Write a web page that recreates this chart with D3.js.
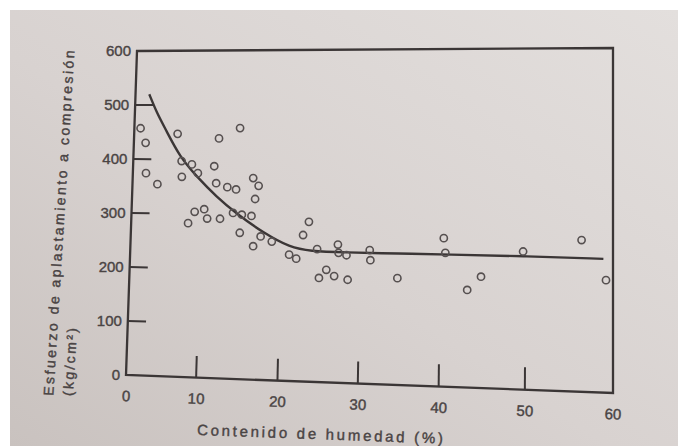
<!DOCTYPE html>
<html>
<head>
<meta charset="utf-8">
<script src="https://cdn.jsdelivr.net/npm/d3@7/dist/d3.min.js"></script>
<style>
body{margin:0;background:#fff}
text{font-family:"Liberation Sans",Arial,sans-serif}
</style>
</head>
<body>
<svg id="chart" width="678" height="446"></svg>
<script>
// moisture content (%) vs crushing strength (kg/cm2)
var moisture = [0.9, 1.7, 1.9, 3.6, 6.3, 12.0, 7.0, 8.5, 9.4, 7.1, 11.5, 11.8, 13.2, 14.3, 16.4, 17.1, 16.7,
                14.0, 15.1, 16.3, 9.1, 10.4, 10.8, 8.2, 12.4, 14.9, 16.6, 17.5, 18.9, 21.1, 22.0, 23.5, 22.8,
                24.6, 24.9, 25.8, 26.8, 28.5, 27.2, 27.3, 28.3, 31.2, 31.3, 34.7, 40.4, 40.6, 43.2, 44.8,
                49.7, 56.4, 59.2, 14.6]
var stress = [457, 430, 374, 354, 447, 439, 397, 391, 375, 368, 388, 357, 350, 346, 367, 353, 329,
              303, 300, 298, 304, 309, 292, 283, 292, 267, 243, 261, 252, 229, 222, 289, 265,
              240, 188, 203, 192, 186, 249, 234, 230, 240, 222, 191, 264, 238, 173, 197,
              243, 265, 196, 458]

// fitted curve
var fitMoisture = [2.0, 3.2, 4.6, 6.7, 9.3, 11.9, 14.4, 17.9, 21.2, 23.7, 27.9, 35.0, 40.7, 49.7, 58.9]
var fitStress = [520, 485, 454, 405, 368, 332, 302, 267, 242, 236, 235, 235, 235, 235, 233]

var xTicks = [0, 10, 20, 30, 40, 50, 60]
var yTicks = [0, 100, 200, 300, 400, 500, 600]
// where the x ticks sit along the (unevenly printed) bottom edge, 0..1
var xTickFrac = [0, 0.144, 0.311, 0.476, 0.642, 0.819, 1]

// the page is photographed a bit skewed: frame corners in the photo
var tl = [137, 51], tr = [613, 48], br = [613, 393], bl = [126, 375]
function warp(u, v){
    return [
        tl[0]*(1-u)*(1-v) + tr[0]*u*(1-v) + br[0]*u*v + bl[0]*(1-u)*v,
        tl[1]*(1-u)*(1-v) + tr[1]*u*(1-v) + br[1]*u*v + bl[1]*(1-u)*v
    ]
}

var x = d3.scaleLinear().domain(xTicks).range(xTickFrac)
var y = d3.scaleLinear().domain([0, 600]).range([1, 0])
function pos(a, b){ return warp(x(a), y(b)) }

var ink = '#3b3636'
var textInk = '#4a4444'
var svg = d3.select('#chart')

var grad = svg.append('defs').append('linearGradient')
    .attr('id', 'paper').attr('x1', '1').attr('y1', '0').attr('x2', '0').attr('y2', '1')
grad.append('stop').attr('offset', '0').attr('stop-color', '#e3dfdd')
grad.append('stop').attr('offset', '0.55').attr('stop-color', '#d8d2d0')
grad.append('stop').attr('offset', '1').attr('stop-color', '#c9c2bf')

svg.append('rect')
    .attr('x', 10).attr('y', 10).attr('width', 668).attr('height', 436)
    .attr('fill', 'url(#paper)')

// frame
var frame = [warp(0, 0), warp(1, 0), warp(1, 1), warp(0, 1)]
svg.append('path')
    .attr('d', d3.line()(frame) + 'Z')
    .attr('fill', 'none')
    .attr('stroke', ink)
    .attr('stroke-width', 2.3)

// inner ticks
var tickU = 18 / 480, tickV = 22 / 334
svg.selectAll('line.ytick').data(yTicks.slice(1, -1))
    .enter().append('line')
    .attr('class', 'ytick')
    .attr('x1', function(d){ return pos(0, d)[0] })
    .attr('y1', function(d){ return pos(0, d)[1] })
    .attr('x2', function(d){ return warp(tickU, y(d))[0] })
    .attr('y2', function(d){ return warp(tickU, y(d))[1] })
    .attr('stroke', ink).attr('stroke-width', 2)

svg.selectAll('line.xtick').data(xTicks.slice(1, -1))
    .enter().append('line')
    .attr('class', 'xtick')
    .attr('x1', function(d){ return pos(d, 0)[0] })
    .attr('y1', function(d){ return pos(d, 0)[1] })
    .attr('x2', function(d){ return warp(x(d), 1 - tickV)[0] })
    .attr('y2', function(d){ return warp(x(d), 1 - tickV)[1] })
    .attr('stroke', ink).attr('stroke-width', 2)

// tick labels
svg.selectAll('text.ylab').data(yTicks)
    .enter().append('text')
    .attr('class', 'ylab')
    .attr('x', function(d){ return pos(0, d)[0] - 6 })
    .attr('y', function(d){ return pos(0, d)[1] })
    .attr('dy', '0.35em')
    .attr('text-anchor', 'end')
    .attr('font-size', 15)
    .attr('fill', textInk).attr('stroke', textInk).attr('stroke-width', 0.4)
    .text(function(d){ return d })

svg.selectAll('text.xlab').data(xTicks)
    .enter().append('text')
    .attr('class', 'xlab')
    .attr('transform', function(d){
        var p = pos(d, 0)
        return 'translate(' + p[0] + ',' + (p[1] + 21) + ') rotate(2)'
    })
    .attr('dy', '0.35em')
    .attr('text-anchor', 'middle')
    .attr('font-size', 15)
    .attr('fill', textInk).attr('stroke', textInk).attr('stroke-width', 0.4)
    .text(function(d){ return d })

// axis titles
svg.append('text')
    .attr('transform', 'translate(320,434) rotate(2)')
    .attr('text-anchor', 'middle')
    .attr('dy', '0.35em')
    .attr('font-size', 15)
    .attr('fill', textInk).attr('stroke', textInk).attr('stroke-width', 0.4)
    .attr('textLength', 246)
    .attr('lengthAdjust', 'spacing')
    .text('Contenido de humedad (%)')

svg.append('text')
    .attr('transform', 'translate(59,223) rotate(-86.5)')
    .attr('text-anchor', 'middle')
    .attr('dy', '0.35em')
    .attr('font-size', 14)
    .attr('fill', textInk).attr('stroke', textInk).attr('stroke-width', 0.4)
    .attr('textLength', 346)
    .attr('lengthAdjust', 'spacing')
    .text('Esfuerzo de aplastamiento a compresión')

svg.append('text')
    .attr('transform', 'translate(70,362) rotate(-86.5)')
    .attr('text-anchor', 'middle')
    .attr('dy', '0.35em')
    .attr('font-size', 14)
    .attr('fill', textInk).attr('stroke', textInk).attr('stroke-width', 0.4)
    .attr('textLength', 68)
    .attr('lengthAdjust', 'spacing')
    .text('(kg/cm²)')

// fitted curve
var fitPts = fitMoisture.map(function(d, i){ return pos(d, fitStress[i]) })
svg.append('path')
    .attr('d', d3.line().curve(d3.curveBasis)(fitPts))
    .attr('fill', 'none')
    .attr('stroke', ink)
    .attr('stroke-width', 2.4)

// observations
svg.selectAll('circle.obs').data(moisture)
    .enter().append('circle')
    .attr('class', 'obs')
    .attr('cx', function(d, i){ return pos(d, stress[i])[0] })
    .attr('cy', function(d, i){ return pos(d, stress[i])[1] })
    .attr('r', 3.6)
    .attr('fill', 'none')
    .attr('stroke', '#565050')
    .attr('stroke-width', 1.6)
</script>
</body>
</html>
